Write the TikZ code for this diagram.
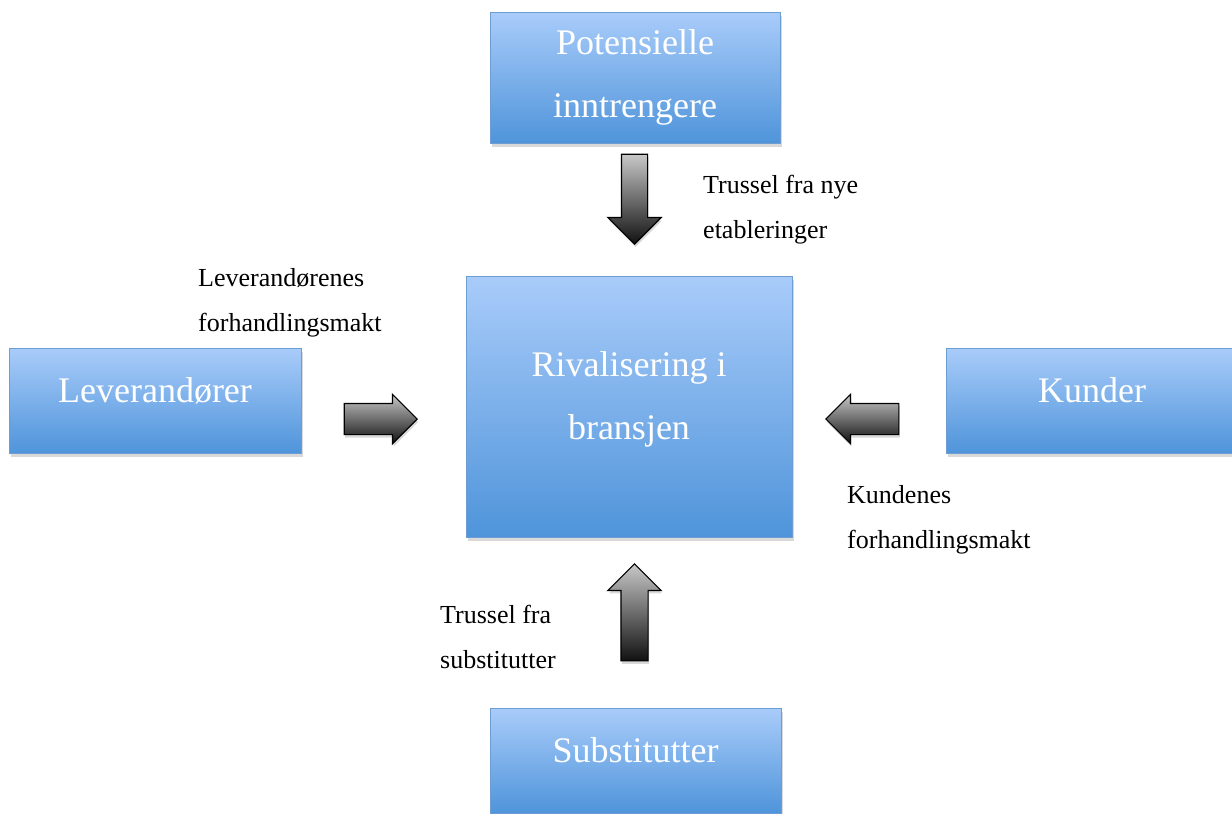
\documentclass[tikz,border=0pt]{standalone}
\usepackage{fontspec}
\setmainfont{Liberation Serif}
\usetikzlibrary{positioning,shapes.arrows,shadows}
\definecolor{boxtop}{HTML}{A9CCFA}
\definecolor{boxbottom}{HTML}{4F94DA}
\definecolor{boxline}{HTML}{6D9DD3}
\definecolor{arrowtop}{HTML}{C8C8C8}
\definecolor{arrowbottom}{HTML}{111111}

\begin{document}
\begin{tikzpicture}[x=1pt, y=-1pt,
  force/.style={draw=boxline, line width=1pt, top color=boxtop, bottom color=boxbottom, text=white, align=center, inner sep=0pt, font=\fontsize{36}{63}\selectfont, drop shadow={opacity=0.3, shadow xshift=2pt, shadow yshift=-4pt}},
  pressure/.style={single arrow, anchor=tip, draw=black, line width=1.2pt, top color=arrowtop, bottom color=arrowbottom, inner sep=0pt, drop shadow={opacity=0.3, shadow xshift=1pt, shadow yshift=-3pt}},
  note/.style={align=left, anchor=north west, inner sep=0pt, font=\fontsize{26}{45}\selectfont}
]
  \useasboundingbox (0,0) rectangle (1232,814);

  \node[force, minimum width=326pt, minimum height=261pt, text depth=21pt] (rivalry) at (629,406.5) {Rivalisering i\\bransjen};
  \node[force, minimum width=290pt, minimum height=131pt] (entrants) at (635,77.5) {Potensielle\\inntrengere};
  \node[force, minimum width=292pt, minimum height=105pt, text depth=20pt] (suppliers) at (155,400.5) {Leverandører};
  \node[force, minimum width=292pt, minimum height=105pt, text depth=20pt] (customers) at (1092,400.5) {Kunder};
  \node[force, minimum width=291pt, minimum height=105pt, text depth=20pt] (substitutes) at (635.5,760.5) {Substitutter};

  \node[pressure, shape border rotate=270, minimum height=90pt, inner xsep=12.5pt, single arrow head extend=13.5pt] (newthreat) at (634.5,245) {};
  \node[pressure, shape border rotate=90, minimum height=97pt, inner xsep=13pt, single arrow head extend=13pt] (subthreat) at (634.5,563) {};
  \node[pressure, minimum height=73pt, inner ysep=15pt, single arrow head extend=9pt] (supplierpower) at (418,419) {};
  \node[pressure, shape border rotate=180, minimum height=73pt, inner ysep=15pt, single arrow head extend=9pt] (customerpower) at (825,419) {};

  \node[note] (newlabel) at (703,175) {Trussel fra nye\\etableringer};
  \node[note] (supplierlabel) at (198,268) {Leverandørenes\\forhandlingsmakt};
  \node[note] (customerlabel) at (847,485) {Kundenes\\forhandlingsmakt};
  \node[note] (sublabel) at (440,605) {Trussel fra\\substitutter};
\end{tikzpicture}
\end{document}
